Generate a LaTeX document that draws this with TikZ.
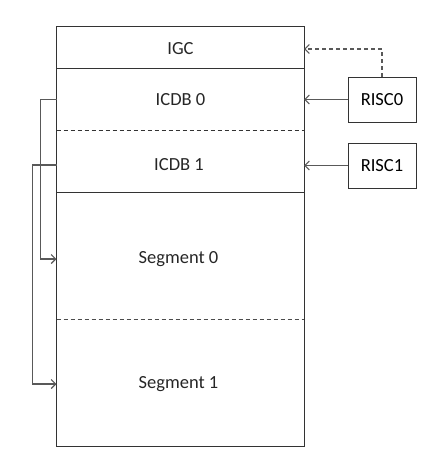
\documentclass[tikz,border=0pt]{standalone}
\usepackage{fontspec}
\setmainfont{Carlito}
\usetikzlibrary{arrows.meta}
\begin{document}
\begin{tikzpicture}[x=1pt,y=-1pt,
  sect/.style={draw=none,inner sep=0pt,outer sep=0pt,minimum width=247.5pt},
  lbl/.style={font=\fontsize{18.5}{21}\selectfont,text=black!85,inner sep=0pt},
  box/.style={draw=black!80,line width=1pt},
  conn/.style={draw=black!65,line width=1.1pt,-{Straight Barb[length=4.5pt,width=9pt]}},
  riscbox/.style={draw=black!80,line width=1pt,minimum width=68pt,minimum height=45pt,inner sep=0pt,font=\fontsize{18.5}{21}\selectfont}]
\useasboundingbox (0,0) rectangle (440,471);
% memory sections
\node[sect,minimum height=42pt]  (igc)   at (180.25,47)    {};
\node[sect,minimum height=62pt]  (icdb0) at (180.25,99)    {};
\node[sect,minimum height=62pt]  (icdb1) at (180.25,161)   {};
\node[sect,minimum height=127pt] (seg0)  at (180.25,255.5) {};
\node[sect,minimum height=127pt] (seg1)  at (180.25,382.5) {};
% labels
\node[lbl] (igct)   at (180.5,49)  {IGC};
\node[lbl] (icdb0t) at (180.5,99.5)  {ICDB 0};
\node[lbl] (icdb1t) at (179,165) {ICDB 1};
\node[lbl] (seg0t)  at (178.5,259) {Segment 0};
\node[lbl] (seg1t)  at (178.5,384) {Segment 1};
% outline and dividers
\draw[box] (igc.north west) rectangle (seg1.south east);
\draw[box] (igc.south west) -- (igc.south east);
\draw[box,dash pattern=on 4pt off 3pt] (icdb0.south west) -- (icdb0.south east);
\draw[box] (icdb1.south west) -- (icdb1.south east);
\draw[box,dash pattern=on 4pt off 3pt,draw=black!70] (seg0.south west) -- (seg0.south east);
% RISC boxes
\node[riscbox] (risc0) at (382,99.5) {RISC0};
\node[riscbox] (risc1) at (382,165.5) {RISC1};
% connectors on the right
\draw[conn] (risc0.west) -- (risc0.west -| icdb0.east);
\draw[conn] (risc1.west) -- (risc1.west -| icdb1.east);
\draw[conn,dash pattern=on 4pt off 3pt] (risc0.north) |- (igct -| igc.east);
% connectors on the left
\draw[conn] (icdb0t -| icdb0.west) -- ++(-16,0) |- (seg0t -| seg0.west);
\draw[conn] (icdb1t -| icdb1.west) -- ++(-24,0) |- (seg1t -| seg1.west);
\end{tikzpicture}
\end{document}
